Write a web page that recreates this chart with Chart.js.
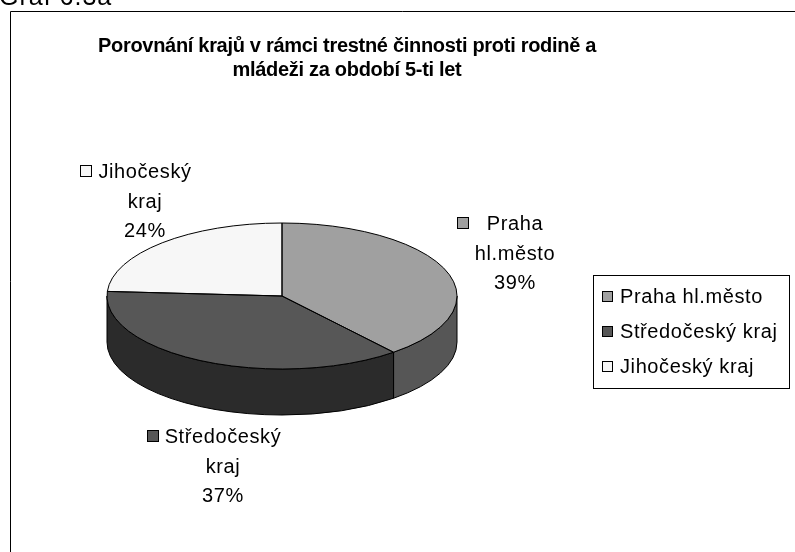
<!DOCTYPE html>
<html>
<head>
<meta charset="utf-8">
<script src="https://cdn.jsdelivr.net/npm/chart.js@4"></script>
<style>
  body { margin: 0; background: #fff; }
  #graf { display: block; }
</style>
</head>
<body>
<canvas id="graf" width="795" height="552"></canvas>
<script>
// data
const kraje = ['Praha hl.město', 'Středočeský kraj', 'Jihočeský kraj'];
const podily = [39, 37, 24];
const radkyPopisku = [['Praha', 'hl.město'], ['Středočeský', 'kraj'], ['Jihočeský', 'kraj']];
const nadpis = ['Porovnání krajů v rámci trestné činnosti proti rodině a', 'mládeži za období 5-ti let'];

// vzhled
const barvyHorni = ['#a0a0a0', '#575757', '#f7f7f7'];
const barvyBocni = ['#565656', '#2b2b2b', '#c8c8c8'];
const stred = { x: 282, y: 296 };
const rx = 175, ry = 73, hloubka = 46;
const poziceStitku = [[515, 230], [223, 443], [145, 178]];
const pismo = '"Liberation Sans", Arial, sans-serif';

function bodElipsy(a, dy) {
    return [stred.x + rx * Math.cos(a), stred.y + (dy || 0) + ry * Math.sin(a)];
}

// 3D efekt: boky + zmacknuti kolace do elipsy
const kolac3D = {
    id: 'kolac3D',
    beforeDatasetsDraw(chart) {
        const ctx = chart.ctx;
        const oblouky = chart.getDatasetMeta(0).data;
        ctx.save();
        ctx.lineWidth = 1;
        ctx.strokeStyle = '#000';
        oblouky.forEach((arc, i) => {
            const a1 = Math.max(arc.startAngle, 0);
            const a2 = Math.min(arc.endAngle, Math.PI);
            if (a2 <= a1) return;
            ctx.beginPath();
            ctx.ellipse(stred.x, stred.y, rx, ry, 0, a1, a2);
            const [bx, by] = bodElipsy(a2, hloubka);
            ctx.lineTo(bx, by);
            ctx.ellipse(stred.x, stred.y + hloubka, rx, ry, 0, a2, a1, true);
            ctx.closePath();
            ctx.fillStyle = barvyBocni[i];
            ctx.fill();
            ctx.stroke();
        });
        ctx.restore();

        const a = chart.chartArea;
        const cy0 = (a.top + a.bottom) / 2;
        ctx.save();
        ctx.translate(0, stred.y);
        ctx.scale(1, ry / rx);
        ctx.translate(0, -cy0);
    },
    afterDatasetsDraw(chart) {
        const ctx = chart.ctx;
        ctx.restore();
        // obrysy horni plochy
        ctx.save();
        ctx.lineWidth = 1;
        ctx.strokeStyle = '#000';
        chart.getDatasetMeta(0).data.forEach(arc => {
            ctx.beginPath();
            ctx.moveTo(stred.x, stred.y);
            const [sx, sy] = bodElipsy(arc.startAngle);
            ctx.lineTo(sx, sy);
            ctx.ellipse(stred.x, stred.y, rx, ry, 0, arc.startAngle, arc.endAngle);
            ctx.closePath();
            ctx.stroke();
        });
        ctx.restore();
    }
};

// texty: nadpis, stitky, legenda, ramecek
const texty = {
    id: 'texty',
    afterDraw(chart) {
        const ctx = chart.ctx;
        ctx.save();
        ctx.fillStyle = '#000';
        ctx.strokeStyle = '#000';
        ctx.lineWidth = 1;

        // ramecek grafu
        ctx.beginPath();
        ctx.moveTo(10.5, 552);
        ctx.lineTo(10.5, 11.5);
        ctx.lineTo(795, 11.5);
        ctx.stroke();

        ctx.letterSpacing = '1px';
        ctx.font = '25px ' + pismo;
        ctx.textAlign = 'left';
        ctx.fillText('Graf 6.3a', -1, 5);

        // nadpis
        ctx.font = 'bold 20px ' + pismo;
        ctx.letterSpacing = '-0.3px';
        ctx.textAlign = 'center';
        ctx.fillText(nadpis[0], 347, 52);
        ctx.fillText(nadpis[1], 347, 76);

        // popisky dat
        ctx.font = '20px ' + pismo;
        ctx.letterSpacing = '0.6px';
        kraje.forEach((k, i) => {
            const radky = radkyPopisku[i].concat([podily[i] + '%']);
            const [x, y] = poziceStitku[i];
            const maxW = Math.max(...radky.map(r => ctx.measureText(r).width));
            radky.forEach((r, j) => ctx.fillText(r, x, y + j * 29.5));
            const kx = Math.round(x - maxW / 2 - 18);
            ctx.fillStyle = barvyHorni[i];
            ctx.fillRect(kx + 0.5, y - 12.5, 11, 11);
            ctx.strokeRect(kx + 0.5, y - 12.5, 11, 11);
            ctx.fillStyle = '#000';
        });

        // legenda
        ctx.strokeRect(593.5, 275.5, 196, 113);
        ctx.textAlign = 'left';
        kraje.forEach((k, i) => {
            const y = 303 + i * 35;
            ctx.fillStyle = barvyHorni[i];
            ctx.fillRect(602.5, y - 11.5, 10, 10);
            ctx.strokeRect(602.5, y - 11.5, 10, 10);
            ctx.fillStyle = '#000';
            ctx.fillText(k, 620, y);
        });
        ctx.restore();
    }
};

new Chart(document.getElementById('graf'), {
    type: 'pie',
    data: {
        labels: kraje,
        datasets: [{
            data: podily,
            backgroundColor: barvyHorni,
            borderWidth: 0,
            clip: false
        }]
    },
    options: {
        responsive: false,
        devicePixelRatio: 1,
        animation: false,
        events: [],
        radius: rx,
        layout: {
            padding: { left: stred.x - rx, right: 795 - stred.x - rx, top: 0, bottom: 0 }
        },
        plugins: {
            legend: { display: false },
            tooltip: { enabled: false },
            title: { display: false }
        }
    },
    plugins: [kolac3D, texty]
});
</script>
</body>
</html>
